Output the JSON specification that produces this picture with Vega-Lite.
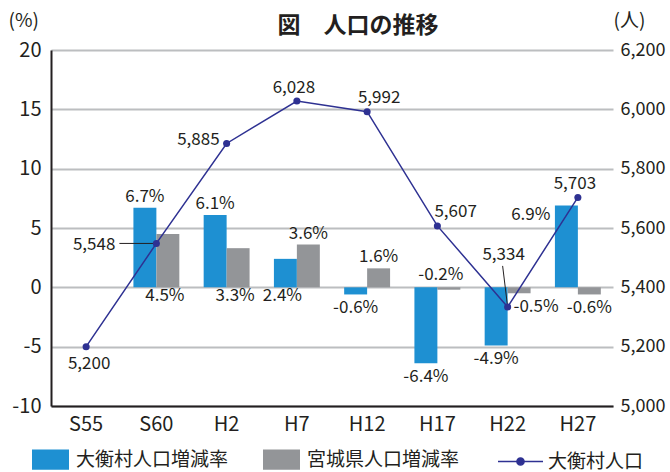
{
  "$schema": "https://vega.github.io/schema/vega-lite/v6.json",
  "width": 562,
  "height": 356,
  "autosize": "none",
  "padding": {"left": 51, "top": 50, "right": 57, "bottom": 66},
  "background": "white",
  "config": {
    "font": "Noto Sans CJK JP",
    "view": {"stroke": null},
    "locale": {"number": {"decimal": ".", "thousands": ",", "grouping": [3], "currency": ["", "%"], "minus": "-"}},
    "text": {"fontSize": 17, "color": "#231F20", "baseline": "middle"}
  },
  "title": {"text": "図　人口の推移", "fontSize": 23, "fontWeight": "bold", "color": "#231F20", "anchor": "middle", "dx": 26, "offset": -27, "font": "Noto Sans CJK JP"},
  "datasets": {
    "rates": [
      {"year": "S60", "series": "大衡村人口増減率", "rate": 6.7},
      {"year": "S60", "series": "宮城県人口増減率", "rate": 4.5},
      {"year": "H2", "series": "大衡村人口増減率", "rate": 6.1},
      {"year": "H2", "series": "宮城県人口増減率", "rate": 3.3},
      {"year": "H7", "series": "大衡村人口増減率", "rate": 2.4},
      {"year": "H7", "series": "宮城県人口増減率", "rate": 3.6},
      {"year": "H12", "series": "大衡村人口増減率", "rate": -0.6},
      {"year": "H12", "series": "宮城県人口増減率", "rate": 1.6},
      {"year": "H17", "series": "大衡村人口増減率", "rate": -6.4},
      {"year": "H17", "series": "宮城県人口増減率", "rate": -0.2},
      {"year": "H22", "series": "大衡村人口増減率", "rate": -4.9},
      {"year": "H22", "series": "宮城県人口増減率", "rate": -0.5},
      {"year": "H27", "series": "大衡村人口増減率", "rate": 6.9},
      {"year": "H27", "series": "宮城県人口増減率", "rate": -0.6}
    ],
    "pop": [
      {"year": "S55", "pop": 5200},
      {"year": "S60", "pop": 5548},
      {"year": "H2", "pop": 5885},
      {"year": "H7", "pop": 6028},
      {"year": "H12", "pop": 5992},
      {"year": "H17", "pop": 5607},
      {"year": "H22", "pop": 5334},
      {"year": "H27", "pop": 5703}
    ]
  },
  "layer": [
    {
      "data": {"name": "rates"},
      "layer": [
        {
          "mark": {"type": "bar"},
          "encoding": {
            "x": {"field": "year", "type": "nominal", "title": null, "scale": {"domain": ["S55", "S60", "H2", "H7", "H12", "H17", "H22", "H27"], "paddingInner": 0, "paddingOuter": 0},
              "axis": {"title": null, "labelAngle": 0, "domain": true, "domainColor": "#231F20", "domainWidth": 2, "ticks": false, "labelPadding": 8, "labelFontSize": 20, "labelColor": "#231F20", "labelFont": "Noto Sans CJK JP", "zindex": 1}},
            "xOffset": {"field": "series", "type": "nominal", "scale": {"domain": ["大衡村人口増減率", "宮城県人口増減率"], "paddingOuter": 0.53, "paddingInner": 0}},
            "y": {"field": "rate", "type": "quantitative", "title": "(%)", "scale": {"domain": [-10, 20], "nice": false, "zero": false},
              "axis": {"values": [-10, -5, 0, 5, 10, 15, 20], "title": "(%)", "titleAngle": 0, "titleAlign": "left", "titleBaseline": "middle", "titleX": -43, "titleY": -30, "titleFontSize": 19, "titleFontWeight": "normal", "titleColor": "#231F20", "titleFont": "Noto Sans CJK JP", "grid": true, "gridColor": "#BCBEC0", "gridWidth": 2, "domain": true, "domainColor": "#231F20", "domainWidth": 2, "ticks": false, "labelPadding": 10, "labelFontSize": 20, "labelColor": "#231F20", "labelFont": "Noto Sans CJK JP"}},
            "color": {"field": "series", "type": "nominal", "scale": {"domain": ["大衡村人口増減率", "宮城県人口増減率"], "range": ["#1E90D2", "#939598"]},
              "legend": {"title": null, "orient": "none", "legendX": -19, "legendY": 391, "direction": "horizontal", "symbolType": "M-1,-0.55H1V0.55H-1Z", "symbolSize": 1369, "symbolStrokeWidth": 0, "labelFontSize": 19, "labelColor": "#231F20", "labelFont": "Noto Sans CJK JP", "labelOffset": 7, "columnPadding": 34, "padding": 0, "labelLimit": 300}}
          }
        },
        {
          "transform": [{"filter": "(datum.series=='大衡村人口増減率' && (datum.year=='S60' || datum.year=='H2')) || (datum.series=='宮城県人口増減率' && (datum.year=='H7' || datum.year=='H12'))"}],
          "mark": {"type": "text", "dy": -11},
          "encoding": {
            "x": {"field": "year", "type": "nominal", "title": null},
            "xOffset": {"field": "series", "type": "nominal"},
            "y": {"field": "rate", "type": "quantitative", "title": "(%)"},
            "text": {"field": "rate", "type": "quantitative", "format": "$.1f"}
          }
        },
        {
          "transform": [{"filter": "(datum.series=='大衡村人口増減率' && (datum.year=='H12' || datum.year=='H17' || datum.year=='H22')) || (datum.series=='宮城県人口増減率' && datum.year=='H27')"}],
          "mark": {"type": "text", "dy": 14},
          "encoding": {
            "x": {"field": "year", "type": "nominal", "title": null},
            "xOffset": {"field": "series", "type": "nominal"},
            "y": {"field": "rate", "type": "quantitative", "title": "(%)"},
            "text": {"field": "rate", "type": "quantitative", "format": "$.1f"}
          }
        },
        {
          "transform": [{"filter": "(datum.series=='大衡村人口増減率' && datum.year=='H7') || (datum.series=='宮城県人口増減率' && (datum.year=='S60' || datum.year=='H2'))"}],
          "mark": {"type": "text", "dy": 9, "dx": -3},
          "encoding": {
            "x": {"field": "year", "type": "nominal", "title": null},
            "xOffset": {"field": "series", "type": "nominal"},
            "y": {"datum": 0, "type": "quantitative", "title": "(%)"},
            "text": {"field": "rate", "type": "quantitative", "format": "$.1f"}
          }
        },
        {
          "transform": [{"filter": "datum.series=='宮城県人口増減率' && datum.year=='H17'"}],
          "mark": {"type": "text", "dy": -12, "dx": -8},
          "encoding": {
            "x": {"field": "year", "type": "nominal", "title": null},
            "xOffset": {"field": "series", "type": "nominal"},
            "y": {"datum": 0, "type": "quantitative", "title": "(%)"},
            "text": {"field": "rate", "type": "quantitative", "format": "$.1f"}
          }
        },
        {
          "transform": [{"filter": "datum.series=='宮城県人口増減率' && datum.year=='H22'"}],
          "mark": {"type": "text", "dy": 14, "dx": 17},
          "encoding": {
            "x": {"field": "year", "type": "nominal", "title": null},
            "xOffset": {"field": "series", "type": "nominal"},
            "y": {"field": "rate", "type": "quantitative", "title": "(%)"},
            "text": {"field": "rate", "type": "quantitative", "format": "$.1f"}
          }
        },
        {
          "transform": [{"filter": "datum.series=='大衡村人口増減率' && datum.year=='H27'"}],
          "mark": {"type": "text", "dy": 10, "dx": -16, "align": "right"},
          "encoding": {
            "x": {"field": "year", "type": "nominal", "title": null},
            "xOffset": {"field": "series", "type": "nominal"},
            "y": {"field": "rate", "type": "quantitative", "title": "(%)"},
            "text": {"field": "rate", "type": "quantitative", "format": "$.1f"}
          }
        }
      ]
    },
    {
      "data": {"name": "pop"},
      "encoding": {
        "x": {"field": "year", "type": "nominal", "title": null},
        "y": {"field": "pop", "type": "quantitative", "title": "(人)", "scale": {"domain": [5000, 6200], "nice": false, "zero": false},
          "axis": {"orient": "right", "values": [5000, 5200, 5400, 5600, 5800, 6000, 6200], "format": ",d", "grid": false, "domain": false, "ticks": false, "labelPadding": 7, "labelFontSize": 18, "labelColor": "#231F20", "labelFont": "Noto Sans CJK JP", "title": "(人)", "titleAngle": 0, "titleAlign": "left", "titleBaseline": "middle", "titleX": 0, "titleY": -30, "titleFontSize": 19, "titleFontWeight": "normal", "titleColor": "#231F20", "titleFont": "Noto Sans CJK JP"}}
      },
      "layer": [
        {
          "mark": {"type": "line", "strokeWidth": 1.5},
          "encoding": {
            "stroke": {"datum": "大衡村人口", "type": "nominal", "scale": {"range": ["#2E3192"]},
              "legend": {"title": null, "orient": "none", "legendX": 446, "legendY": 388, "symbolType": "M-1,0H1M-0.16,0A0.16,0.16,0,1,1,0.16,0A0.16,0.16,0,1,1,-0.16,0Z", "symbolSize": 2025, "symbolStrokeWidth": 1.5, "symbolFillColor": "#2E3192", "labelFontSize": 19, "labelColor": "#231F20", "labelFont": "Noto Sans CJK JP", "labelOffset": 4, "padding": 0}}
          }
        },
        {
          "transform": [{"filter": "datum.year=='S60'"}],
          "mark": {"type": "rule", "color": "#231F20", "strokeWidth": 1, "x2Offset": -37},
          "encoding": {
            "x2": {"field": "year"}
          }
        },
        {
          "transform": [{"filter": "datum.year=='H22'"}],
          "mark": {"type": "rule", "color": "#231F20", "strokeWidth": 1, "x2Offset": -5, "y2Offset": -41},
          "encoding": {
            "x2": {"field": "year"},
            "y2": {"field": "pop"}
          }
        },
        {
          "mark": {"type": "point", "filled": true, "size": 50, "opacity": 1, "color": "#2E3192"}
        },
        {
          "transform": [{"filter": "datum.year=='S55'"}],
          "mark": {"type": "text", "dy": 17, "dx": 3},
          "encoding": {"text": {"field": "pop", "type": "quantitative", "format": ","}}
        },
        {
          "transform": [{"filter": "datum.year=='S60'"}],
          "mark": {"type": "text", "dy": 2, "dx": -41, "align": "right"},
          "encoding": {"text": {"field": "pop", "type": "quantitative", "format": ","}}
        },
        {
          "transform": [{"filter": "datum.year=='H2'"}],
          "mark": {"type": "text", "dy": -3, "dx": -7, "align": "right"},
          "encoding": {"text": {"field": "pop", "type": "quantitative", "format": ","}}
        },
        {
          "transform": [{"filter": "datum.year=='H7' || datum.year=='H27'"}],
          "mark": {"type": "text", "dy": -13, "dx": -3},
          "encoding": {"text": {"field": "pop", "type": "quantitative", "format": ","}}
        },
        {
          "transform": [{"filter": "datum.year=='H12'"}],
          "mark": {"type": "text", "dy": -14, "dx": 12},
          "encoding": {"text": {"field": "pop", "type": "quantitative", "format": ","}}
        },
        {
          "transform": [{"filter": "datum.year=='H17'"}],
          "mark": {"type": "text", "dy": -14, "dx": -3, "align": "left"},
          "encoding": {"text": {"field": "pop", "type": "quantitative", "format": ","}}
        },
        {
          "transform": [{"filter": "datum.year=='H22'"}],
          "mark": {"type": "text", "dy": -52, "dx": -4},
          "encoding": {"text": {"field": "pop", "type": "quantitative", "format": ","}}
        }
      ]
    }
  ],
  "resolve": {"scale": {"y": "independent"}}
}
